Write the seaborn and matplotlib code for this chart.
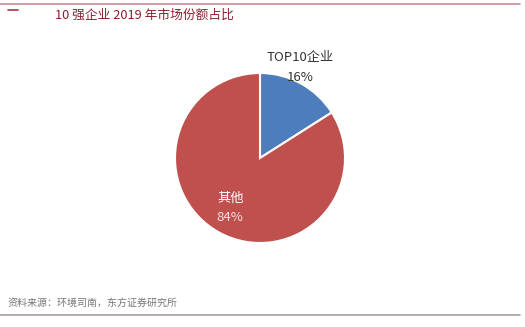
import matplotlib
matplotlib.use("Agg")
import matplotlib.pyplot as plt
import seaborn as sns
from matplotlib.lines import Line2D

sns.set_theme(style="white")
plt.rcParams['font.family'] = ['Noto Sans CJK SC', 'DejaVu Sans']

title = "10 强企业 2019 年市场份额占比"
source = "资料来源：环境司南，东方证券研究所"
categories = ["TOP10企业", "其他"]
shares = [16, 84]
colors = ["#4E7DBE", "#C0504E"]

W, H = 525, 327
fig = plt.figure(figsize=(W / 100, H / 100), dpi=100)
fig.patch.set_facecolor("white")

# pie axes: centre (260, 158) px, radius 85 px
cx, cy, r = 260, 158, 85
ax = fig.add_axes([(cx - r) / W, (H - cy - r) / H, 2 * r / W, 2 * r / H])
ax.pie(shares, colors=colors, startangle=90, counterclock=False,
       wedgeprops=dict(edgecolor="white", linewidth=1.5))
ax.set_xlim(-1, 1)
ax.set_ylim(-1, 1)
ax.set_aspect("equal")
ax.axis("off")

# data labels
lab_fs = 9.5
ax.text(0.47, 1.18, categories[0], ha="center", va="center", fontsize=lab_fs, color="#333333")
ax.text(0.47, 0.95, f"{shares[0]}%", ha="center", va="center", fontsize=lab_fs, color="#333333")
ax.text(-0.35, -0.47, categories[1], ha="center", va="center", fontsize=lab_fs, color="white")
ax.text(-0.35, -0.70, f"{shares[1]}%", ha="center", va="center", fontsize=lab_fs, color="#F6E3E3")

# frame lines and titles
fig.add_artist(Line2D([0, 520 / W], [1 - 4 / H, 1 - 4 / H], color="#C98A98", lw=1.2))
fig.add_artist(Line2D([8 / W, 18 / W], [1 - 10 / H, 1 - 10 / H], color="#B03040", lw=1.2))
fig.add_artist(Line2D([0, 520 / W], [1 - 315 / H, 1 - 315 / H], color="#A89CA0", lw=1.2))

fig.text(55 / W, 1 - 15 / H, title, ha="left", va="center", fontsize=9.2, color="#8C1C2C")
fig.text(8 / W, 1 - 303 / H, source, ha="left", va="center", fontsize=7.2, color="#777777")

fig.savefig("out.png", dpi=100, facecolor="white")
